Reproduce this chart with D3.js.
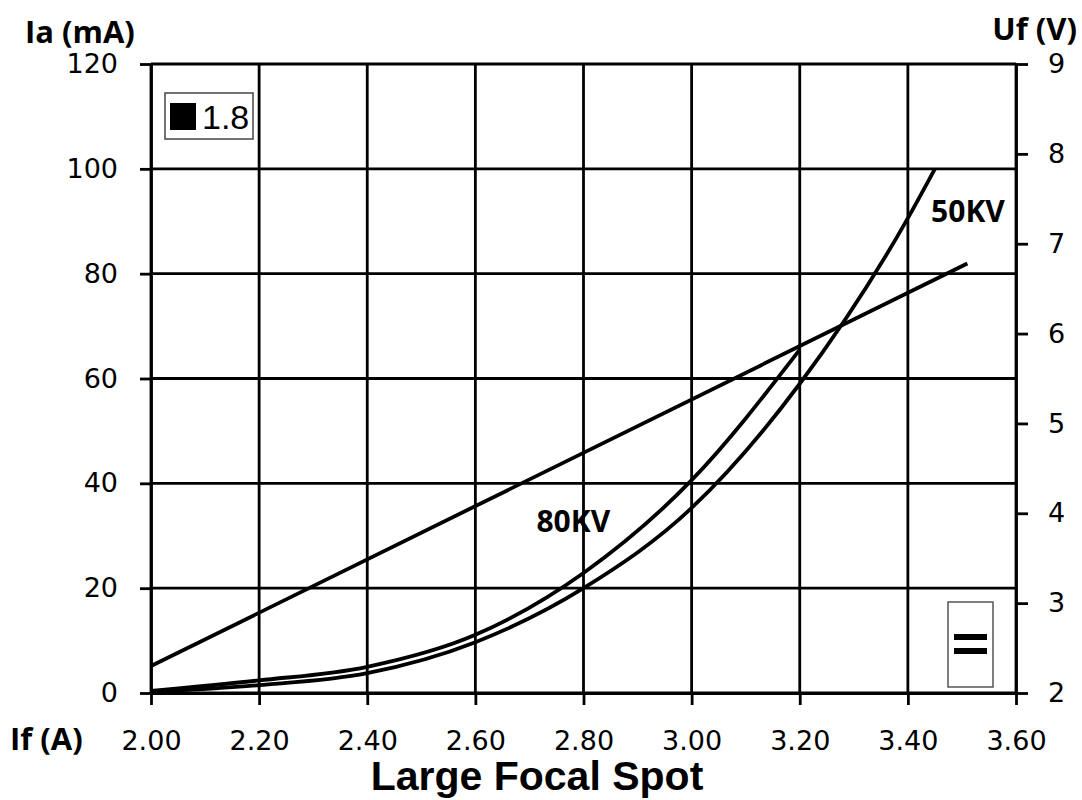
<!DOCTYPE html>
<head>
    <meta charset="utf-8">
    <title>Large Focal Spot</title>
    <style>
        body { margin: 0; background: #fff; }
        svg { display: block; }
        .tick text { font-family: "DejaVu Sans", sans-serif; font-size: 27px; fill: #000; }
        .title { font-family: "Open Sans", Lato, sans-serif; font-weight: bold; fill: #000; }
    </style>
</head>
<body>

<svg width="1082" height="800"></svg>

<script src="https://d3js.org/d3.v7.min.js"></script>

<script>

    // Tick values for the three axes
    const ifTicks = [2.00, 2.20, 2.40, 2.60, 2.80, 3.00, 3.20, 3.40, 3.60];
    const iaTicks = [0, 20, 40, 60, 80, 100, 120];
    const ufTicks = [2, 3, 4, 5, 6, 7, 8, 9];

    // Anode current curves
    const kv80If = [2.00, 2.20, 2.40, 2.60, 2.80, 3.00, 3.20];
    const kv80Ia = [0.4, 2.4, 5.0, 11.1, 22.9, 40.6, 65.5];
    const kv50If = [2.00, 2.20, 2.40, 2.60, 2.80, 3.00, 3.20, 3.40, 3.45];
    const kv50Ia = [0.2, 1.5, 3.8, 9.7, 20.0, 35.3, 59.0, 90.6, 100.0];

    // Filament voltage (right axis)
    const ufIf = [2.00, 3.51];
    const ufV = [2.30, 6.78];

    const svg = d3.select("svg");
    const margin = {top: 64, right: 66, bottom: 107, left: 151};
    const width = 1082 - margin.left - margin.right;
    const height = 800 - margin.top - margin.bottom;

    const g = svg.append("g")
        .attr("transform", "translate(" + margin.left + "," + margin.top + ")");

    const x = d3.scaleLinear().domain([2.0, 3.6]).range([0, width]);
    const y = d3.scaleLinear().domain([0, 120]).range([height, 0]);
    const y2 = d3.scaleLinear().domain([2, 9]).range([height, 0]);

    const gridWidth = 2.8;

    // Grid lines
    g.append("g").selectAll("line")
        .data(iaTicks)
        .enter().append("line")
            .attr("x1", 0).attr("x2", width)
            .attr("y1", d => y(d)).attr("y2", d => y(d))
            .attr("stroke", "#000").attr("stroke-width", gridWidth);

    g.append("g").selectAll("line")
        .data(ifTicks)
        .enter().append("line")
            .attr("x1", d => x(d)).attr("x2", d => x(d))
            .attr("y1", 0).attr("y2", height)
            .attr("stroke", "#000").attr("stroke-width", gridWidth);

    // Axes
    const xAxis = g.append("g")
        .attr("transform", "translate(0," + height + ")")
        .call(d3.axisBottom(x).tickValues(ifTicks).tickFormat(d3.format(".2f")).tickSize(12).tickSizeOuter(0));
    xAxis.selectAll("text").attr("y", 57).attr("dy", null);

    const yAxis = g.append("g")
        .call(d3.axisLeft(y).tickValues(iaTicks).tickSize(11).tickPadding(22).tickSizeOuter(0));

    const y2Axis = g.append("g")
        .attr("transform", "translate(" + width + ",0)")
        .call(d3.axisRight(y2).tickValues(ufTicks).tickFormat(d3.format("d")).tickSize(12).tickPadding(20).tickSizeOuter(0));

    [xAxis, yAxis, y2Axis].forEach(a => {
        a.select(".domain").attr("stroke", "#000").attr("stroke-width", gridWidth);
        a.selectAll(".tick line").attr("stroke", "#000").attr("stroke-width", gridWidth);
    });

    // Curves
    const line = d3.line()
        .x(d => x(d[0]))
        .y(d => y(d[1]))
        .curve(d3.curveMonotoneX);

    const lineUf = d3.line()
        .x(d => x(d[0]))
        .y(d => y2(d[1]));

    const curves = [
        d3.zip(kv80If, kv80Ia),
        d3.zip(kv50If, kv50Ia)
    ];

    g.append("g").selectAll("path")
        .data(curves)
        .enter().append("path")
            .attr("d", line)
            .attr("fill", "none")
            .attr("stroke", "#000")
            .attr("stroke-width", 3.8);

    g.append("path")
        .attr("d", lineUf(d3.zip(ufIf, ufV)))
        .attr("fill", "none")
        .attr("stroke", "#000")
        .attr("stroke-width", 3.8);

    // Curve labels
    g.append("text").attr("class", "title")
        .attr("x", x(2.713)).attr("y", y(30.7))
        .attr("font-size", 30)
        .text("80KV");
    g.append("text").attr("class", "title")
        .attr("x", x(3.443)).attr("y", y(89.8))
        .attr("font-size", 30)
        .text("50KV");

    // Axis titles
    svg.append("text").attr("class", "title")
        .attr("x", 25).attr("y", 43)
        .attr("font-size", 31)
        .text("Ia (mA)");
    svg.append("text").attr("class", "title")
        .attr("x", 1077).attr("y", 40)
        .attr("text-anchor", "end")
        .attr("font-size", 31)
        .text("Uf (V)");
    svg.append("text").attr("class", "title")
        .attr("x", 10).attr("y", 750)
        .attr("font-size", 31)
        .text("If (A)");
    svg.append("text")
        .attr("x", 537).attr("y", 790)
        .attr("text-anchor", "middle")
        .attr("font-family", "'Liberation Sans', Arial, sans-serif")
        .attr("font-weight", "bold")
        .attr("font-size", 41)
        .text("Large Focal Spot");

    // Small legend box, top left
    const leg = g.append("g").attr("transform", "translate(14,29)");
    leg.append("rect")
        .attr("width", 88).attr("height", 46)
        .attr("fill", "#fff").attr("stroke", "#444").attr("stroke-width", 1.5);
    leg.append("rect")
        .attr("x", 5).attr("y", 10).attr("width", 26).attr("height", 27)
        .attr("fill", "#000");
    leg.append("text")
        .attr("x", 37).attr("y", 36)
        .attr("font-family", "'Liberation Sans', Arial, sans-serif")
        .attr("font-size", 34)
        .text("1.8");

    // Box with two bars, bottom right
    const box = g.append("g").attr("transform", "translate(" + (width - 68) + "," + (height - 91) + ")");
    box.append("rect")
        .attr("width", 45).attr("height", 85)
        .attr("fill", "#fff").attr("stroke", "#555").attr("stroke-width", 1.5);
    box.selectAll(".bar")
        .data([32, 46])
        .enter().append("rect")
            .attr("x", 6).attr("y", d => d)
            .attr("width", 33).attr("height", 6)
            .attr("fill", "#000");

</script>

</body>
